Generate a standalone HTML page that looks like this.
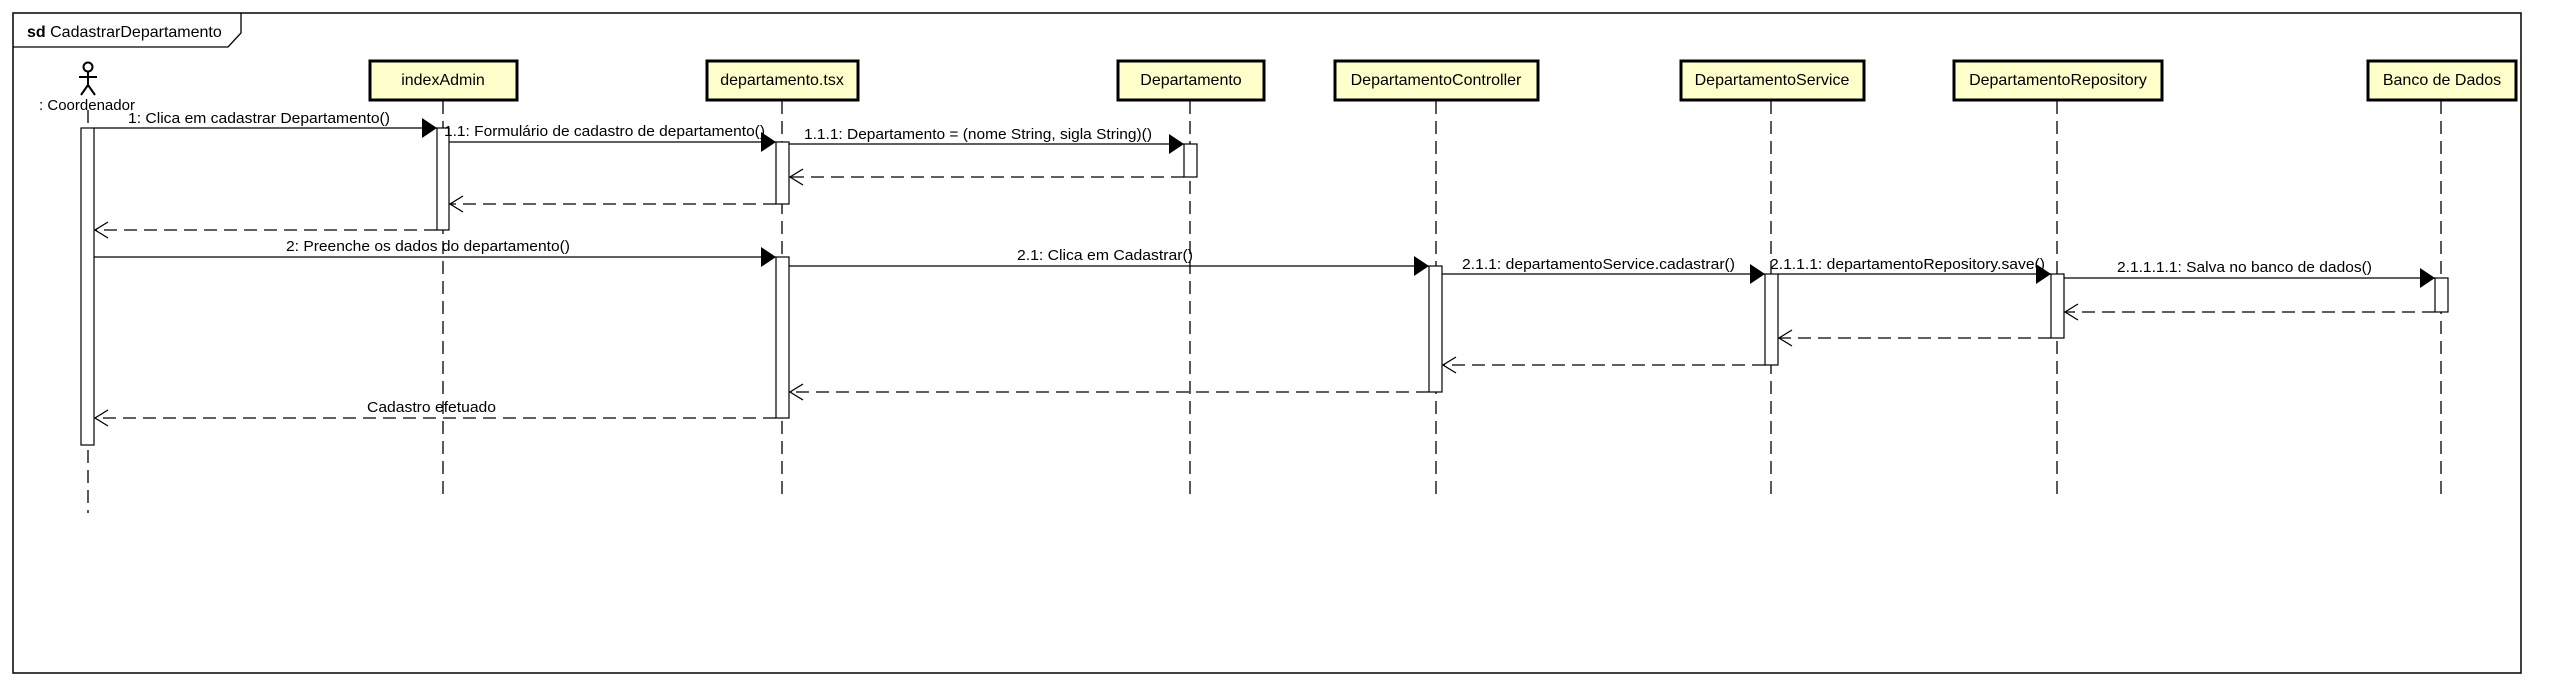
<!DOCTYPE html>
<html><head><meta charset="utf-8"><style>
html,body{margin:0;padding:0;background:#fff;}
svg{display:block;}
text{font-family:"Liberation Sans",sans-serif;font-size:15px;fill:#000;}
</style></head><body>
<svg width="2552" height="686" viewBox="0 0 2552 686" xmlns="http://www.w3.org/2000/svg">
<defs>
<marker id="f" markerWidth="16" markerHeight="20" refX="15" refY="10" orient="auto" markerUnits="userSpaceOnUse"><path d="M0,0 L15,10 L0,20 Z" fill="#000"/></marker>
<marker id="o" markerWidth="16" markerHeight="20" refX="14" refY="9" orient="auto" markerUnits="userSpaceOnUse"><path d="M1,1 L14,9 L1,17" fill="none" stroke="#000" stroke-width="1.3"/></marker>
</defs>
<!-- frame -->
<rect x="13" y="13" width="2508" height="660" fill="none" stroke="#000" stroke-width="1.5"/>
<path d="M13,47 L228,47 L241,33 L241,13" fill="none" stroke="#000" stroke-width="1.3"/>
<text x="27" y="37" style="font-size:16px"><tspan font-weight="bold">sd</tspan> CadastrarDepartamento</text>

<!-- lifelines -->
<g stroke="#000" stroke-width="1.3" stroke-dasharray="13,7" fill="none">
<line x1="88" y1="110" x2="88" y2="513"/>
<line x1="443" y1="101" x2="443" y2="500"/>
<line x1="782" y1="101" x2="782" y2="500"/>
<line x1="1190" y1="101" x2="1190" y2="500"/>
<line x1="1436" y1="101" x2="1436" y2="500"/>
<line x1="1771" y1="101" x2="1771" y2="500"/>
<line x1="2057" y1="101" x2="2057" y2="500"/>
<line x1="2441" y1="101" x2="2441" y2="500"/>
</g>

<!-- actor -->
<g stroke="#000" stroke-width="2" fill="none">
<circle cx="88" cy="67" r="4.5"/>
<line x1="88" y1="71" x2="88" y2="85"/>
<line x1="79" y1="77" x2="97" y2="77"/>
<line x1="88" y1="85" x2="81" y2="95"/>
<line x1="88" y1="85" x2="95" y2="95"/>
</g>
<text x="87" y="110" text-anchor="middle" style="font-size:15px">: Coordenador</text>

<!-- boxes -->
<g fill="#ffffcc" stroke="#000" stroke-width="3">
<rect x="370" y="61" width="147" height="39"/>
<rect x="707" y="61" width="151" height="39"/>
<rect x="1118" y="61" width="146" height="39"/>
<rect x="1335" y="61" width="203" height="39"/>
<rect x="1681" y="61" width="183" height="39"/>
<rect x="1954" y="61" width="208" height="39"/>
<rect x="2368" y="61" width="148" height="39"/>
</g>
<g text-anchor="middle">
<text x="443" y="85" style="font-size:16px">indexAdmin</text>
<text x="782" y="85" style="font-size:16px">departamento.tsx</text>
<text x="1191" y="85" style="font-size:16px">Departamento</text>
<text x="1436" y="85" style="font-size:16px">DepartamentoController</text>
<text x="1772" y="85" style="font-size:16px">DepartamentoService</text>
<text x="2058" y="85" style="font-size:16px">DepartamentoRepository</text>
<text x="2442" y="85" style="font-size:16px">Banco de Dados</text>
</g>

<!-- activations -->
<g fill="#fff" stroke="#000" stroke-width="1.2">
<rect x="81" y="128" width="13" height="317"/>
<rect x="437" y="128" width="12" height="102"/>
<rect x="776" y="142" width="13" height="62"/>
<rect x="1184" y="144" width="13" height="33"/>
<rect x="776" y="257" width="13" height="161"/>
<rect x="1429" y="266" width="13" height="126"/>
<rect x="1765" y="274" width="13" height="91"/>
<rect x="2051" y="274" width="13" height="64"/>
<rect x="2435" y="278" width="13" height="34"/>
</g>

<!-- sync messages -->
<g stroke="#000" stroke-width="1.3" marker-end="url(#f)">
<line x1="94" y1="128" x2="437" y2="128"/>
<line x1="449" y1="142" x2="776" y2="142"/>
<line x1="789" y1="144" x2="1184" y2="144"/>
<line x1="94" y1="257" x2="776" y2="257"/>
<line x1="789" y1="266" x2="1429" y2="266"/>
<line x1="1442" y1="274" x2="1765" y2="274"/>
<line x1="1778" y1="274" x2="2051" y2="274"/>
<line x1="2064" y1="278" x2="2435" y2="278"/>
</g>

<!-- returns -->
<g stroke="#000" stroke-width="1.3" stroke-dasharray="13,7" marker-end="url(#o)">
<line x1="1184" y1="177" x2="790" y2="177"/>
<line x1="776" y1="204" x2="450" y2="204"/>
<line x1="437" y1="230" x2="95" y2="230"/>
<line x1="2435" y1="312" x2="2065" y2="312"/>
<line x1="2051" y1="338" x2="1779" y2="338"/>
<line x1="1765" y1="365" x2="1443" y2="365"/>
<line x1="1429" y1="392" x2="790" y2="392"/>
<line x1="776" y1="418" x2="95" y2="418"/>
</g>

<!-- labels -->
<text x="128" y="123" textLength="262" lengthAdjust="spacingAndGlyphs">1: Clica em cadastrar Departamento()</text>
<text x="444" y="136" textLength="321" lengthAdjust="spacingAndGlyphs">1.1: Formulário de cadastro de departamento()</text>
<text x="804" y="139" textLength="348" lengthAdjust="spacingAndGlyphs">1.1.1: Departamento = (nome String, sigla String)()</text>
<text x="286" y="251" textLength="284" lengthAdjust="spacingAndGlyphs">2: Preenche os dados do departamento()</text>
<text x="1017" y="260" textLength="176" lengthAdjust="spacingAndGlyphs">2.1: Clica em Cadastrar()</text>
<text x="1462" y="269" textLength="273" lengthAdjust="spacingAndGlyphs">2.1.1: departamentoService.cadastrar()</text>
<text x="1770" y="269" textLength="275" lengthAdjust="spacingAndGlyphs">2.1.1.1: departamentoRepository.save()</text>
<text x="2117" y="272" textLength="255" lengthAdjust="spacingAndGlyphs">2.1.1.1.1: Salva no banco de dados()</text>
<text x="367" y="412" textLength="129" lengthAdjust="spacingAndGlyphs">Cadastro efetuado</text>
</svg>
</body></html>
